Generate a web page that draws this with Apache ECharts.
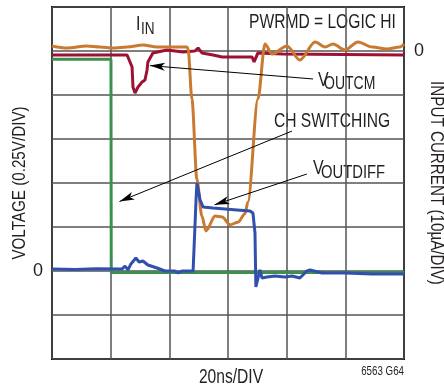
<!DOCTYPE html>
<html>
<head>
<meta charset="utf-8">
<script src="https://cdn.jsdelivr.net/npm/echarts@6/dist/echarts.min.js"></script>
<style>html,body{margin:0;padding:0;background:#fff;}#c{width:444px;height:387px;}</style>
</head>
<body>
<div id="c"></div>
<script>
// time in ns (20ns/DIV)
const iinTime = [0,5.1,11.9,16.4,20.8,25.6,31.0,35.8,41.2,46.0,46.4,47.7,49.4,51.1,52.5,55.6,58.0,60.7,63.4,65.8,66.8,70.2,72.6,75.0,80.1,84.5,89.7,93.1,95.8,99.9,104.3,109.1,114.2,118.6,120];
// input current in uA (10uA/DIV)
const iinValue = [1.14,0.68,1.14,0.91,0.68,0.91,1.36,0.91,0.91,0.91,0.45,-10.9,-29.1,-37.5,-40.9,-37.5,-37.7,-39.5,-38.9,-37.0,-34.3,-10.9,1.59,-0.68,1.14,-2.05,2.05,0.91,1.59,0.23,2.05,0.91,0.45,0.91,1.59];

const cmTime = [0,25.6,27.3,27.6,28.3,29.3,30.7,31.7,32.4,32.7,34.4,39.2,44.7,48.7,49.8,51.1,54.9,58.0,68.2,68.9,70.2,78.7,120];
const cmValue = [1.227,1.227,1.159,1.045,1.011,1.045,1.074,1.085,1.142,1.188,1.239,1.256,1.244,1.25,1.267,1.239,1.227,1.216,1.216,1.188,1.239,1.233,1.227];

const swTime = [0,20.1,20.2,120];
const swValue = [1.203,1.203,-0.009,-0.009];

const diffTime = [0,8,15,23.9,24.9,25.9,26.9,28.6,29.7,31.0,32.7,35.8,38.5,41.9,43.0,44.3,48.1,49.1,49.4,50.5,51.5,54.9,63.1,67.5,68.5,69.2,69.5,70.9,71.6,73.3,76.0,79.4,81.8,84.5,86.9,88.0,92.0,99.9,109.1,120];
const diffValue = [0.011,0.008,0.013,0.011,0.028,0.006,0.040,0.074,0.051,0.057,0.034,0.017,0,0,-0.011,0,0,0.403,0.5,0.403,0.364,0.358,0.347,0.341,0.330,0.216,-0.091,0.006,-0.040,-0.034,-0.028,-0.034,-0.028,-0.040,0,0.006,-0.011,-0.011,-0.017,-0.017];

// annotation arrows: [tailTime, tailV, headTime, headV]
const arrowCM = [89.0,1.091,33.4,1.167];
const arrowSW = [81.8,0.795,23.0,0.395];
const arrowDIFF = [86.9,0.551,55.4,0.376];

const zip = (a,b)=>a.map((t,i)=>[t,b[i]]);
const FONT = "'Liberation Sans',Arial,sans-serif";
const TXT = '#231f20';
const SX = 0.8;

const arrow = a => [{coord:[a[0],a[1]], symbol:'none'},{coord:[a[2],a[3]], symbol:'arrow', symbolSize:[6,15]}];

function txt(x,y,s,size,extra){
  return Object.assign({type:'text', x:x, y:y, scaleX:SX, style:{text:s, fill:TXT, font:size+'px '+FONT, textVerticalAlign:'middle', textAlign:'left'}}, extra||{});
}

const chart = echarts.init(document.getElementById('c'), null, {renderer:'canvas'});
chart.setOption({
  animation:false,
  backgroundColor:'#fff',
  grid:{left:52,right:40,top:7,bottom:28,show:true,borderColor:'#000',borderWidth:2,backgroundColor:'transparent'},
  xAxis:{type:'value',min:0,max:120,interval:20,
    axisLine:{show:false},axisTick:{show:false},axisLabel:{show:false},
    splitLine:{show:true,lineStyle:{color:'#555',width:1.5}}},
  yAxis:[
    {type:'value',min:-0.5,max:1.5,interval:0.25,position:'left',
      axisLine:{show:false},axisTick:{show:false},
      axisLabel:{margin:9,fontSize:18,fontFamily:FONT,color:TXT,formatter:v=>Math.abs(v)<1e-9?'0':''},
      splitLine:{show:true,lineStyle:{color:'#555',width:1.5}}},
    {type:'value',min:-70,max:10,interval:10,position:'right',
      axisLine:{show:false},axisTick:{show:false},
      axisLabel:{margin:10,fontSize:18,fontFamily:FONT,color:TXT,formatter:v=>Math.abs(v)<1e-9?'0':''},
      splitLine:{show:false}}
  ],
  series:[
    {name:'CH SWITCHING',type:'line',yAxisIndex:0,data:zip(swTime,swValue),showSymbol:false,
      lineStyle:{color:'#3d8f4f',width:3},z:2,
      markLine:{silent:true,symbol:['none','arrow'],label:{show:false},
        lineStyle:{color:'#000',width:1,type:'solid'},
        data:[arrow(arrowCM),arrow(arrowSW),arrow(arrowDIFF)]}},
    {name:'VOUTCM',type:'line',yAxisIndex:0,data:zip(cmTime,cmValue),showSymbol:false,
      lineStyle:{color:'#9e1034',width:3},z:3},
    {name:'IIN',type:'line',yAxisIndex:1,data:zip(iinTime,iinValue),showSymbol:false,
      smooth:0.3,smoothMonotone:'x',
      lineStyle:{color:'#c97a30',width:3},z:4},
    {name:'VOUTDIFF',type:'line',yAxisIndex:0,data:zip(diffTime,diffValue),showSymbol:false,
      lineStyle:{color:'#3150ad',width:3},z:5}
  ],
  graphic:[
    txt(136,24,'I',20), txt(141,29,'IN',17),
    txt(249,23,'PWRMD = LOGIC HI',19.5),
    txt(318,80,'V',20), txt(324,84,'OUTCM',17.5),
    txt(274,122,'CH SWITCHING',19.5),
    txt(313,168,'V',20), txt(321,173,'OUTDIFF',18.5),
    {type:'text', x:20, y:183, rotation:Math.PI/2, scaleX:SX,
      style:{text:'VOLTAGE (0.25V/DIV)', fill:TXT, font:'19px '+FONT, textAlign:'center', textVerticalAlign:'middle'}},
    {type:'text', x:436, y:183, rotation:-Math.PI/2, scaleX:SX,
      style:{text:'INPUT CURRENT (10µA/DIV)', fill:TXT, font:'19px '+FONT, textAlign:'center', textVerticalAlign:'middle'}},
    {type:'text', x:231, y:378, scaleX:SX,
      style:{text:'20ns/DIV', fill:TXT, font:'19.5px '+FONT, textAlign:'center', textVerticalAlign:'middle'}},
    {type:'text', x:404, y:371, scaleX:0.75,
      style:{text:'6563 G64', fill:TXT, font:'13px '+FONT, textAlign:'right', textVerticalAlign:'middle'}}
  ]
});
</script>
</body>
</html>
